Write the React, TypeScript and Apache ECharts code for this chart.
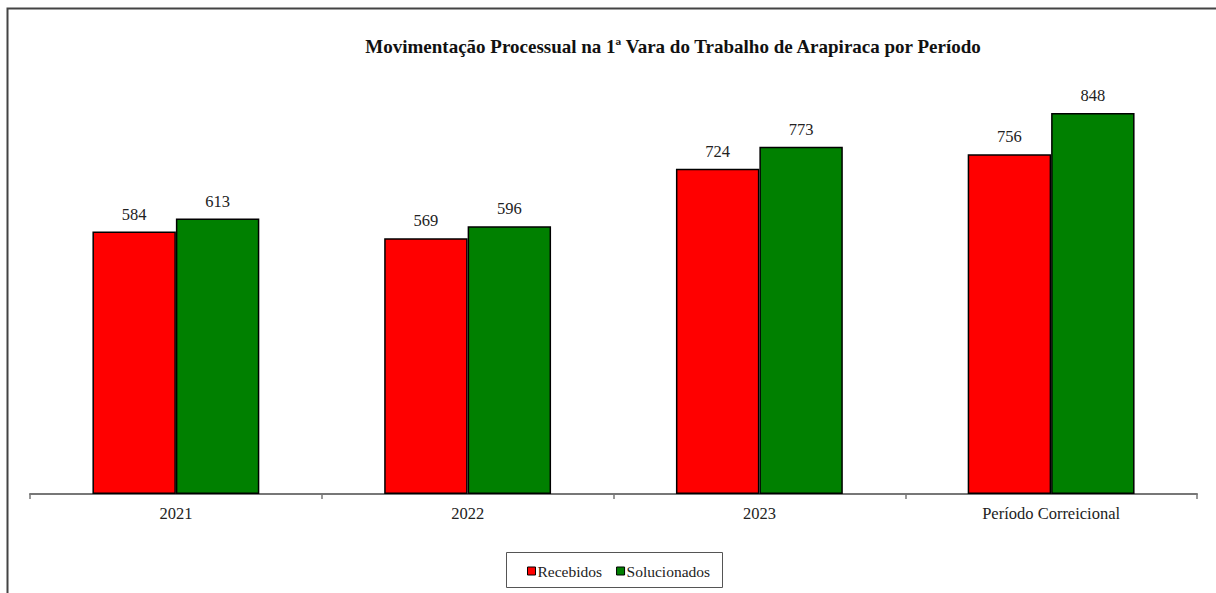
import React, { useEffect, useRef } from "react";
import * as echarts from "echarts";

const titleText = "Movimentação Processual na 1ª Vara do Trabalho de Arapiraca por Período";
const categories = ["2021", "2022", "2023", "Período Correicional"];
const seriesNames = ["Recebidos", "Solucionados"];
const recebidos = [584, 569, 724, 756];
const solucionados = [613, 596, 773, 848];

const FONT = "Times New Roman";

export default function App() {
  const ref = useRef<HTMLDivElement>(null);
  useEffect(() => {
    if (!ref.current) return;
    const chart = echarts.init(ref.current, null, { renderer: "svg" });
    chart.setOption({
      animation: false,
      backgroundColor: "#ffffff",
      textStyle: { fontFamily: FONT },
      title: {
        text: titleText,
        left: 668,
        textAlign: "center",
        top: 32,
        textStyle: { fontFamily: FONT, fontSize: 19, fontWeight: "bold", color: "#111" },
      },
      graphic: [
        {
          type: "rect",
          shape: { x: 7.5, y: 8.5, width: 1230, height: 620 },
          style: { fill: "none", stroke: "#444", lineWidth: 2 },
          silent: true,
        },
        {
          type: "rect",
          shape: { x: 506.5, y: 552.5, width: 216, height: 35 },
          style: { fill: "none", stroke: "#555", lineWidth: 1 },
          silent: true,
        },
      ],
      legend: {
        data: seriesNames,
        left: 522,
        top: 558,
        itemWidth: 8,
        itemHeight: 8,
        itemGap: 14,
        icon: "rect",
        itemStyle: { borderColor: "#000", borderWidth: 1 },
        textStyle: { fontFamily: FONT, fontSize: 15.5, color: "#222", padding: [0, 0, 0, -3] },
      },
      grid: { left: 30, right: 19, top: 44.7, bottom: 99, containLabel: false },
      xAxis: {
        type: "category",
        data: categories,
        axisLine: { lineStyle: { color: "#777", width: 2 } },
        axisTick: { show: true, length: 5, lineStyle: { color: "#777", width: 1.5 } },
        axisLabel: { fontFamily: FONT, fontSize: 16.5, color: "#222", margin: 11 },
      },
      yAxis: {
        type: "value",
        min: 0,
        max: 1000,
        show: false,
        splitLine: { show: false },
      },
      series: [
        {
          name: seriesNames[0],
          type: "bar",
          data: recebidos,
          barGap: "0%",
          barCategoryGap: "42.8%",
          itemStyle: { color: "#ff0000", borderColor: "#000", borderWidth: 1.5 },
          label: { show: true, position: "top", distance: 9, fontFamily: FONT, fontSize: 16.5, color: "#222" },
        },
        {
          name: seriesNames[1],
          type: "bar",
          data: solucionados,
          barGap: "0%",
          barCategoryGap: "42.8%",
          itemStyle: { color: "#008000", borderColor: "#000", borderWidth: 1.5 },
          label: { show: true, position: "top", distance: 9, fontFamily: FONT, fontSize: 16.5, color: "#222" },
        },
      ],
    });
    return () => chart.dispose();
  }, []);
  return (
    <div
      ref={ref}
      style={{ position: "fixed", left: 0, top: 0, width: 1216, height: 593 }}
    />
  );
}
